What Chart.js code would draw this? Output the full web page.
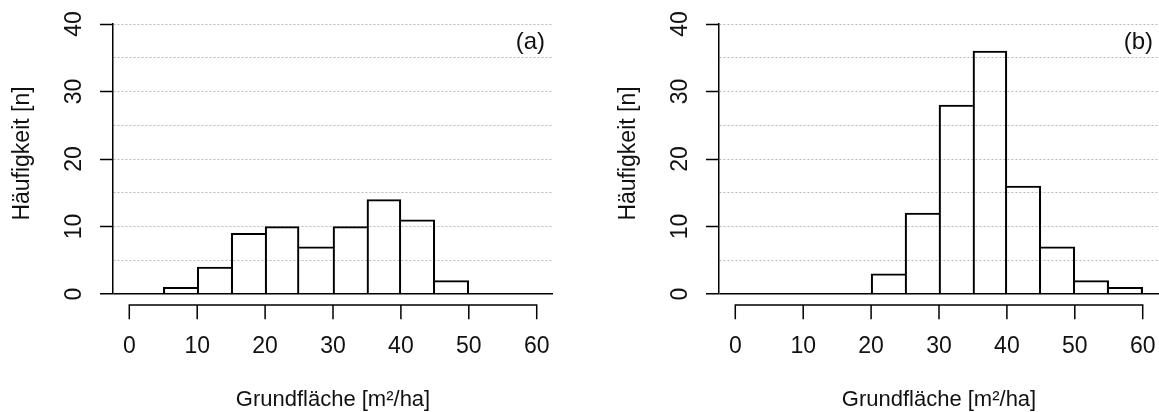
<!DOCTYPE html>
<html><head><meta charset="utf-8">
<script src="https://cdn.jsdelivr.net/npm/chart.js@4.4.1/dist/chart.umd.min.js"></script>
<style>
html,body{margin:0;padding:0;background:#fff;}
#wrap{position:relative;width:1159px;height:412px;overflow:hidden;background:#fff;}
.pane{position:absolute;top:0;width:553px;height:412px;}
#pa{left:0px}
#pb{left:606px}
</style></head><body>
<div id="wrap">
  <div class="pane" id="pa"><canvas id="ca" width="553" height="412"></canvas></div>
  <div class="pane" id="pb"><canvas id="cb" width="553" height="412"></canvas></div>
</div>
<script>
// ---- data ----
const binLower = [0, 5, 10, 15, 20, 25, 30, 35, 40, 45, 50, 55];
const binUpper = [5, 10, 15, 20, 25, 30, 35, 40, 45, 50, 55, 60];
const countsA  = [0, 1, 4, 9, 10, 7, 10, 14, 11, 2, 0, 0];
const countsB  = [0, 0, 0, 0, 3, 12, 28, 36, 16, 7, 2, 1];
const xTickValues = [0, 10, 20, 30, 40, 50, 60];
const yTickValues = [0, 10, 20, 30, 40];
const panelLabels = ['(a)', '(b)'];
const xTitle = 'Grundfläche [m²/ha]';
const yTitle = '\u00A0\u2009Häufigkeit [n]';

Chart.defaults.font.family = "'Liberation Sans', Arial, Helvetica, sans-serif";
Chart.defaults.color = '#111';

const LW = 1.5;

const xAxisLinePlugin = {
  id: 'xAxisLine',
  afterDraw(chart) {
    const ctx = chart.ctx, xs = chart.scales.x;
    const y0 = chart.chartArea.bottom + 11;
    ctx.save();
    ctx.strokeStyle = '#000';
    ctx.lineWidth = LW;
    ctx.lineCap = 'square';
    ctx.beginPath();
    ctx.moveTo(xs.getPixelForValue(xTickValues[0]), y0);
    ctx.lineTo(xs.getPixelForValue(xTickValues[xTickValues.length - 1]), y0);
    xTickValues.forEach(v => {
      const px = xs.getPixelForValue(v);
      ctx.moveTo(px, y0);
      ctx.lineTo(px, y0 + 13.5);
    });
    ctx.stroke();
    ctx.restore();
  }
};

const panelLabelPlugin = {
  id: 'panelLabel',
  afterDraw(chart, args, opts) {
    const ctx = chart.ctx, ca = chart.chartArea;
    ctx.save();
    ctx.font = "24px 'Liberation Sans', Arial, sans-serif";
    ctx.fillStyle = '#111';
    ctx.textAlign = 'right';
    ctx.textBaseline = 'middle';
    ctx.fillText(opts.text, ca.right - opts.dx, ca.top + 18);
    ctx.restore();
  }
};

function makeChart(id, counts, label, dx) {
  const data = counts.map((c, i) => ({ x: (binLower[i] + binUpper[i]) / 2, y: c }));
  const borderW = (ctx) => {
    const i = ctx.dataIndex, v = counts[i];
    if (!v) return 0;
    const prev = i > 0 ? counts[i - 1] : 0;
    const next = i < counts.length - 1 ? counts[i + 1] : 0;
    return { top: LW, left: v >= prev ? LW : 0, right: v > next ? LW : 0, bottom: 0 };
  };
  return new Chart(document.getElementById(id), {
    type: 'bar',
    data: {
      datasets: [{
        data: data,
        backgroundColor: 'rgba(255,255,255,0)',
        borderColor: '#000',
        borderWidth: borderW,
        borderSkipped: false,
        barPercentage: 1,
        categoryPercentage: 1
      }]
    },
    options: {
      responsive: false,
      animation: false,
      events: [],
      layout: { padding: { top: 24, left: 0, right: 0, bottom: 0 } },
      plugins: {
        legend: { display: false },
        tooltip: { enabled: false },
        panelLabel: { text: label, dx: dx }
      },
      scales: {
        x: {
          type: 'linear',
          offset: false,
          min: -2.4,
          max: 62.4,
          afterBuildTicks: s => { s.ticks = xTickValues.map(v => ({ value: v })); },
          afterFit: s => { s.height = 118; s.paddingLeft = 0; s.paddingRight = 0; },
          grid: { display: false, offset: false },
          border: { display: false },
          ticks: { padding: 31, font: { size: 23 }, color: '#111', maxRotation: 0, autoSkip: false },
          title: { display: true, text: xTitle, font: { size: 22, lineHeight: 1 }, color: '#111', padding: { top: 0, bottom: 1 } }
        },
        y: {
          min: 0,
          max: 40,
          z: 1,
          afterFit: s => { s.width = 113; s.paddingTop = 0; s.paddingBottom = 0; },
          ticks: {
            stepSize: 5,
            autoSkip: false,
            minRotation: 90,
            maxRotation: 90,
            crossAlign: 'center',
            padding: 13,
            font: { size: 23 },
            color: '#111',
            callback: v => yTickValues.includes(v) ? String(v) : ''
          },
          grid: {
            color: c => (c.tick && c.tick.value === 0) ? '#000' : '#b8b8b8',
            lineWidth: c => (c.tick && c.tick.value === 0) ? LW : 1,
            drawTicks: true,
            tickLength: 13,
            tickWidth: LW,
            tickColor: c => (c.tick && yTickValues.includes(c.tick.value)) ? '#000' : 'rgba(0,0,0,0)'
          },
          border: {
            display: true,
            color: '#000',
            width: LW,
            dash: c => (c.tick && c.tick.value !== 0) ? [2, 2] : []
          },
          title: { display: true, text: yTitle, font: { size: 23, lineHeight: 1 }, color: '#111', padding: { top: 11, bottom: 0 } }
        }
      }
    },
    plugins: [xAxisLinePlugin, panelLabelPlugin]
  });
}

makeChart('ca', countsA, panelLabels[0], 8);
makeChart('cb', countsB, panelLabels[1], 6);
</script>
</body></html>
